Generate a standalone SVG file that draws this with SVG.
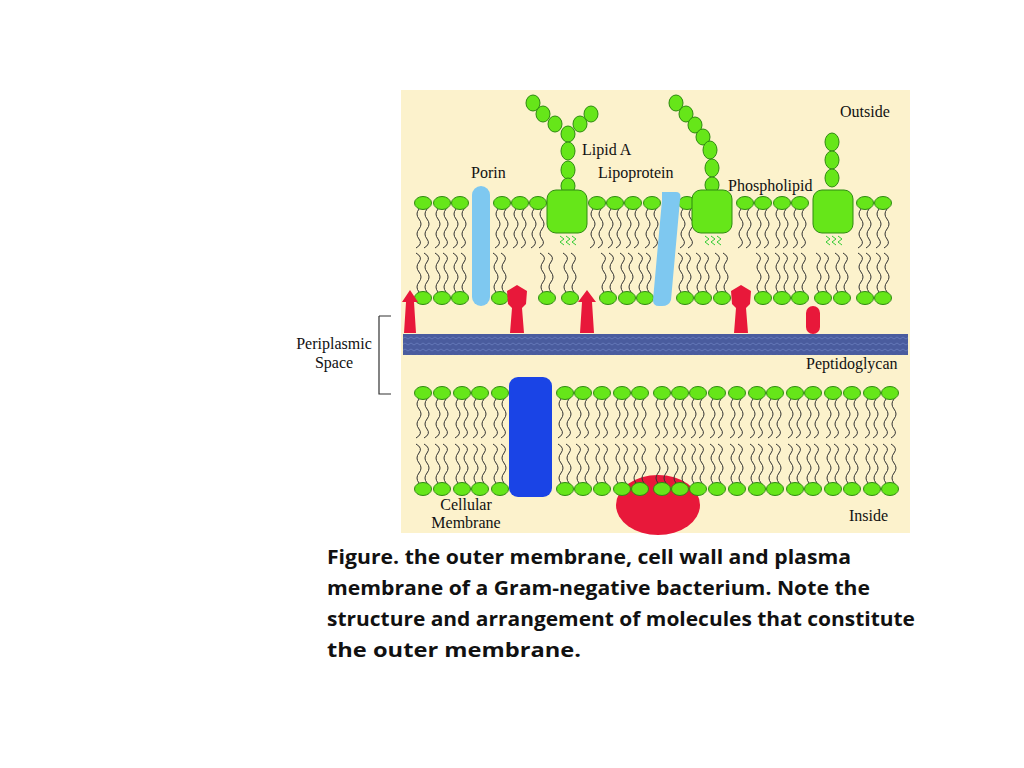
<svg xmlns="http://www.w3.org/2000/svg" xmlns:xlink="http://www.w3.org/1999/xlink" width="1024" height="768" viewBox="0 0 1024 768">
<defs>
<style>
.h{fill:#66E619;stroke:#2E8A10;stroke-width:1}
.t{fill:none;stroke:#333;stroke-width:1}
.lb{font-family:"Liberation Serif",serif;font-size:16px;fill:#111}
.cap{font-family:"Open Sans","Liberation Sans",sans-serif;font-weight:bold;font-size:20px;fill:#111}
.sq{fill:none;stroke:#33CC33;stroke-width:1}
.red{fill:#E8183A}
</style>
<g id="tails"><path class="t" d="M-4,6 q-4,5 0,10 q4,5 0,10 q-4,5 0,10 q4,5 -3,9"/><path class="t" d="M4,6 q-4,5 0,10 q4,5 0,10 q-4,5 0,10 q4,5 -3,9"/></g>
<g id="pd"><use xlink:href="#tails"/><ellipse class="h" rx="8.5" ry="6.5"/></g>
<g id="pu"><use xlink:href="#tails" transform="scale(1,-1)"/><ellipse class="h" rx="8.5" ry="6.5"/></g>
<pattern id="pg" width="6" height="6" patternUnits="userSpaceOnUse"><rect width="6" height="6" fill="#4A5C9E"/><path d="M0,3 l3,-2 l3,2" stroke="#6A7CBE" fill="none" stroke-width="0.8"/></pattern>
</defs>
<rect width="1024" height="768" fill="#fff"/>
<rect x="401" y="90" width="509" height="443" fill="#FCF2CC"/>
<g id="outer-membrane">
<g id="outer-top"><use xlink:href="#pd" x="423" y="203"/><use xlink:href="#pd" x="442" y="203"/><use xlink:href="#pd" x="460" y="203"/><use xlink:href="#pd" x="502" y="203"/><use xlink:href="#pd" x="520" y="203"/><use xlink:href="#pd" x="538" y="203"/><use xlink:href="#pd" x="597" y="203"/><use xlink:href="#pd" x="615" y="203"/><use xlink:href="#pd" x="633" y="203"/><use xlink:href="#pd" x="652" y="203"/><use xlink:href="#pd" x="687" y="203"/><use xlink:href="#pd" x="745" y="203"/><use xlink:href="#pd" x="763" y="203"/><use xlink:href="#pd" x="782" y="203"/><use xlink:href="#pd" x="800" y="203"/><use xlink:href="#pd" x="865" y="203"/><use xlink:href="#pd" x="883" y="203"/></g>
<g id="outer-bottom"><use xlink:href="#pu" x="423" y="298"/><use xlink:href="#pu" x="442" y="298"/><use xlink:href="#pu" x="460" y="298"/><use xlink:href="#pu" x="500" y="298"/><use xlink:href="#pu" x="547" y="298"/><use xlink:href="#pu" x="570" y="298"/><use xlink:href="#pu" x="608" y="298"/><use xlink:href="#pu" x="627" y="298"/><use xlink:href="#pu" x="645" y="298"/><use xlink:href="#pu" x="685" y="298"/><use xlink:href="#pu" x="703" y="298"/><use xlink:href="#pu" x="722" y="298"/><use xlink:href="#pu" x="763" y="298"/><use xlink:href="#pu" x="782" y="298"/><use xlink:href="#pu" x="800" y="298"/><use xlink:href="#pu" x="823" y="298"/><use xlink:href="#pu" x="842" y="298"/><use xlink:href="#pu" x="865" y="298"/><use xlink:href="#pu" x="883" y="298"/></g>
</g>
<g id="lps">
<g id="lps1"><ellipse class="h" cx="533" cy="103" rx="7" ry="8"/><ellipse class="h" cx="543" cy="114" rx="7" ry="8"/><ellipse class="h" cx="555" cy="124" rx="7" ry="8"/><ellipse class="h" cx="591" cy="114" rx="7" ry="8"/><ellipse class="h" cx="580" cy="124" rx="7" ry="8"/><ellipse class="h" cx="568" cy="134" rx="7" ry="8"/><ellipse class="h" cx="568" cy="151" rx="7" ry="9"/><ellipse class="h" cx="568" cy="170" rx="7" ry="9"/><ellipse class="h" cx="568" cy="186" rx="7" ry="8"/><rect class="h" x="547" y="190" width="40" height="43" rx="9"/><path class="sq" d="M560,236 l4,3 l-4,3 l4,3 M566,236 l4,3 l-4,3 l4,3 M572,236 l4,3 l-4,3 l4,3"/></g>
<g id="lps2"><ellipse class="h" cx="676" cy="103" rx="7" ry="8"/><ellipse class="h" cx="686" cy="114" rx="7" ry="8"/><ellipse class="h" cx="695" cy="125" rx="7" ry="8"/><ellipse class="h" cx="703" cy="137" rx="7" ry="8"/><ellipse class="h" cx="710" cy="150" rx="7" ry="9"/><ellipse class="h" cx="712" cy="168" rx="7" ry="9"/><ellipse class="h" cx="712" cy="185" rx="7" ry="8"/><rect class="h" x="692" y="190" width="40" height="43" rx="9"/><path class="sq" d="M705,236 l4,3 l-4,3 l4,3 M711,236 l4,3 l-4,3 l4,3 M717,236 l4,3 l-4,3 l4,3"/></g>
<g id="lps3"><ellipse class="h" cx="832" cy="142" rx="7" ry="9"/><ellipse class="h" cx="832" cy="160" rx="7" ry="9"/><ellipse class="h" cx="832" cy="178" rx="7" ry="9"/><rect class="h" x="813" y="190" width="40" height="43" rx="9"/><path class="sq" d="M826,236 l4,3 l-4,3 l4,3 M832,236 l4,3 l-4,3 l4,3 M838,236 l4,3 l-4,3 l4,3"/></g>
</g>
<g id="porin"><rect x="472" y="186" width="18" height="120" rx="9" fill="#7EC8F0"/></g>
<g id="lipoprotein"><path d="M662,192 L676,192 Q682,192 680,200 L671,300 Q669,306 662,306 L659,306 Q653,306 653,300 L662,200 Z" fill="#7EC8F0"/></g>
<g id="periplasmic-proteins">
<path class="red" d="M410,290 L418,302 L414,302 L416,333 L404,333 L406,302 L402,302 Z"/>
<path class="red" d="M587,290 L596,302 L592,302 L594,333 L580,333 L582,302 L578,302 Z"/>
<path class="red" d="M517,285 L527,291 L526,304 L522,308 L524,333 L510,333 L512,308 L508,304 L507,291 Z"/>
<path class="red" d="M741,285 L751,291 L750,304 L746,308 L748,333 L734,333 L736,308 L732,304 L731,291 Z"/>
<rect class="red" x="806" y="306" width="14" height="28" rx="7"/>
</g>
<g id="peptidoglycan"><rect x="403" y="334" width="505" height="21" fill="url(#pg)"/></g>
<g id="inner-membrane">
<g id="inner-top"><use xlink:href="#pd" x="423" y="393"/><use xlink:href="#pd" x="442" y="393"/><use xlink:href="#pd" x="462" y="393"/><use xlink:href="#pd" x="480" y="393"/><use xlink:href="#pd" x="500" y="393"/><use xlink:href="#pd" x="565" y="393"/><use xlink:href="#pd" x="583" y="393"/><use xlink:href="#pd" x="602" y="393"/><use xlink:href="#pd" x="622" y="393"/><use xlink:href="#pd" x="640" y="393"/><use xlink:href="#pd" x="662" y="393"/><use xlink:href="#pd" x="680" y="393"/><use xlink:href="#pd" x="698" y="393"/><use xlink:href="#pd" x="717" y="393"/><use xlink:href="#pd" x="737" y="393"/><use xlink:href="#pd" x="757" y="393"/><use xlink:href="#pd" x="775" y="393"/><use xlink:href="#pd" x="795" y="393"/><use xlink:href="#pd" x="813" y="393"/><use xlink:href="#pd" x="833" y="393"/><use xlink:href="#pd" x="852" y="393"/><use xlink:href="#pd" x="872" y="393"/><use xlink:href="#pd" x="890" y="393"/></g>
<ellipse id="red-protein" class="red" cx="658" cy="505" rx="42" ry="30"/>
<g id="inner-bottom"><use xlink:href="#pu" x="423" y="489"/><use xlink:href="#pu" x="442" y="489"/><use xlink:href="#pu" x="462" y="489"/><use xlink:href="#pu" x="480" y="489"/><use xlink:href="#pu" x="500" y="489"/><use xlink:href="#pu" x="565" y="489"/><use xlink:href="#pu" x="583" y="489"/><use xlink:href="#pu" x="602" y="489"/><use xlink:href="#pu" x="622" y="489"/><use xlink:href="#pu" x="640" y="489"/><use xlink:href="#pu" x="662" y="489"/><use xlink:href="#pu" x="680" y="489"/><use xlink:href="#pu" x="698" y="489"/><use xlink:href="#pu" x="717" y="489"/><use xlink:href="#pu" x="737" y="489"/><use xlink:href="#pu" x="757" y="489"/><use xlink:href="#pu" x="775" y="489"/><use xlink:href="#pu" x="795" y="489"/><use xlink:href="#pu" x="813" y="489"/><use xlink:href="#pu" x="833" y="489"/><use xlink:href="#pu" x="852" y="489"/><use xlink:href="#pu" x="872" y="489"/><use xlink:href="#pu" x="890" y="489"/></g>
<rect id="blue-protein" x="509" y="377" width="43" height="120" rx="9" fill="#1A44E6"/>
</g>
<g id="bracket"><path d="M379,316 L391,316 M379,316 L379,394 L391,394" fill="none" stroke="#333" stroke-width="1.2"/></g>
<g id="labels">
<text class="lb" x="840" y="117">Outside</text>
<text class="lb" x="582" y="155" font-size="18">Lipid A</text>
<text class="lb" x="471" y="178">Porin</text>
<text class="lb" x="598" y="178">Lipoprotein</text>
<text class="lb" x="728" y="191">Phospholipid</text>
<text class="lb" x="806" y="369">Peptidoglycan</text>
<text class="lb" x="466" y="510" text-anchor="middle">Cellular</text>
<text class="lb" x="466" y="528" text-anchor="middle">Membrane</text>
<text class="lb" x="849" y="521">Inside</text>
<text class="lb" x="334" y="349" text-anchor="middle">Periplasmic</text>
<text class="lb" x="334" y="368" text-anchor="middle">Space</text>
</g>
<g id="caption">
<text class="cap" x="327" y="564" textLength="524" lengthAdjust="spacingAndGlyphs">Figure. the outer membrane, cell wall and plasma</text>
<text class="cap" x="327" y="595" textLength="543" lengthAdjust="spacingAndGlyphs">membrane of a Gram-negative bacterium. Note the</text>
<text class="cap" x="327" y="626" textLength="588" lengthAdjust="spacingAndGlyphs">structure and arrangement of molecules that constitute</text>
<text class="cap" x="327" y="657" textLength="254" lengthAdjust="spacingAndGlyphs">the outer membrane.</text>
</g>
</svg>
